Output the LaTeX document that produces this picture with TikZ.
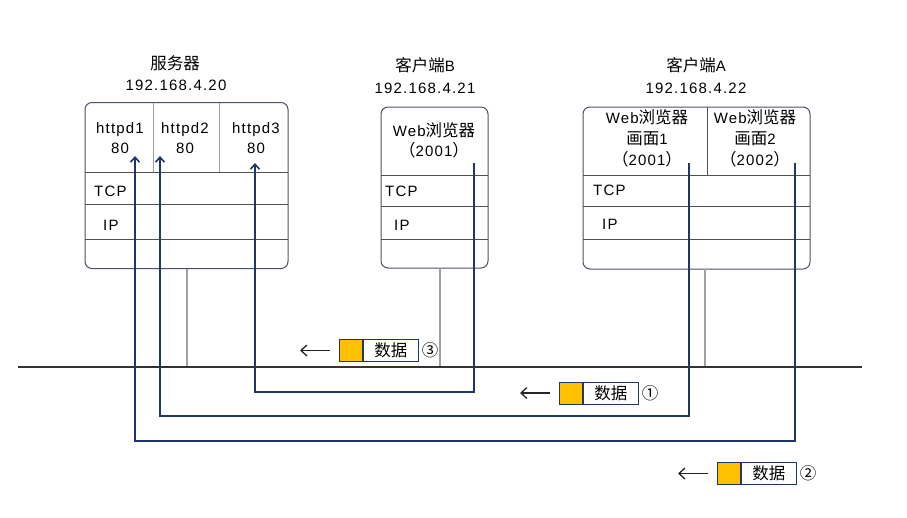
\documentclass[tikz,border=0pt]{standalone}
\usepackage{fontspec}
\setmainfont[LetterSpace=8]{Liberation Sans}
\newfontfamily\cjk[Scale=1.1]{Noto Sans CJK SC}
\usepackage{xcolor}
\usetikzlibrary{arrows.meta}
\definecolor{boxline}{HTML}{4A5264}
\definecolor{rowline}{HTML}{505050}
\definecolor{stalkgray}{HTML}{A0A0A0}
\definecolor{flowblue}{HTML}{1F3768}
\definecolor{pktyellow}{HTML}{FFC000}

\begin{document}
\begin{tikzpicture}[x=1pt,y=-1pt,
	every node/.style={font=\fontsize{15}{20}\selectfont,inner sep=0pt},
	box/.style={draw=boxline,line width=1pt,rounded corners=7pt},
	row/.style={draw=rowline,line width=0.9pt},
	stalk/.style={draw=stalkgray,line width=1.2pt},
	flow/.style={draw=flowblue,line width=1.6pt,-{Straight Barb[length=5pt,width=9pt]}},
	back/.style={draw=black!85,line width=1.3pt,-{Straight Barb[length=6pt,width=11pt]}}]
	\useasboundingbox (0,0) rectangle (907,517);
	%	server
	\node (srv) at (186.5,185.5)[box,minimum width=203pt,minimum height=166pt]{};
	\foreach \y in {172,204,239} \draw[row] (85,\y) -- (288,\y);
	\foreach \x in {153,219} \draw[row,draw=stalkgray] (\x,103) -- (\x,172);
	\node (srvname) at (175,63){\cjk 服务器};
	\node (srvip) at (176,85){192.168.4.20};
	\node (httpd1) at (120,138)[align=center]{httpd1\\80};
	\node (httpd2) at (185,138)[align=center]{httpd2\\80};
	\node (httpd3) at (256,138)[align=center]{httpd3\\80};
	\node (srvtcp) at (94,191)[anchor=west]{TCP};
	\node (srvip4) at (103,225)[anchor=west]{IP};
	%	client B
	\node (cb) at (434.5,187.5)[box,minimum width=107pt,minimum height=161pt]{};
	\foreach \y in {175,206,239} \draw[row] (381,\y) -- (488,\y);
	\node (cbname) at (425,65){\cjk 客户端\rmfamily B};
	\node (cbip) at (425,88){192.168.4.21};
	\node (cbweb) at (434,140)[align=center]{Web{\cjk 浏览器}\\{\cjk （}2001{\cjk ）}};
	\node (cbtcp) at (385,191)[anchor=west]{TCP};
	\node (cbip4) at (394,225)[anchor=west]{IP};
	%	client A
	\node (ca) at (696.5,188)[box,minimum width=227pt,minimum height=162pt]{};
	\foreach \y in {175,206,239} \draw[row] (583,\y) -- (810,\y);
	\draw[row] (707,107) -- (707,175);
	\node (caname) at (696,65){\cjk 客户端\rmfamily A};
	\node (caip) at (696,88){192.168.4.22};
	\node (caweb1) at (647,138)[align=center,font=\fontsize{15}{21}\selectfont]{Web{\cjk 浏览器}\\{\cjk 画面}1\\{\cjk （}2001{\cjk ）}};
	\node (caweb2) at (755,138)[align=center,font=\fontsize{15}{21}\selectfont]{Web{\cjk 浏览器}\\{\cjk 画面}2\\{\cjk （}2002{\cjk ）}};
	\node (catcp) at (593,190)[anchor=west]{TCP};
	\node (caip4) at (602,224)[anchor=west]{IP};
	%	network
	\coordinate (lanL) at (18,367);
	\coordinate (lanR) at (862,367);
	\foreach \x in {187,440,705} \draw[stalk] (\x,269) -- (\x,367);
	\draw[line width=1.4pt,draw=black!80] (lanL) -- (lanR);
	%	flows
	\coordinate (fromB) at (474,163);
	\coordinate (fromA1) at (689,163);
	\coordinate (fromA2) at (795,163);
	\coordinate (to3) at (255,163);
	\coordinate (to2) at (160,156);
	\coordinate (to1) at (135,156);
	\draw[flow] (fromB) -- (474,392) -| (to3);
	\draw[flow] (fromA1) -- (689,416) -| (to2);
	\draw[flow] (fromA2) -- (795,441) -| (to1);
	%	data
	\foreach \x/\y/\n/\k in {339/350.5/3/③,559/393/1/①,717/473.5/2/②}{
		\node (tag\n) at (\x,\y)[anchor=west,draw=flowblue,line width=0.9pt,fill=pktyellow,minimum width=23pt,minimum height=22pt]{};
		\node (data\n) at (tag\n.east)[anchor=west,draw=flowblue,line width=0.9pt,fill=white,minimum width=55pt,minimum height=22pt]{\cjk 数据};
		\node (num\n) at (\x+91,\y){\cjk\k};
		\draw[back] ([xshift=-9pt]tag\n.west) -- ++(-30,0);
	}
\end{tikzpicture}
\end{document}
